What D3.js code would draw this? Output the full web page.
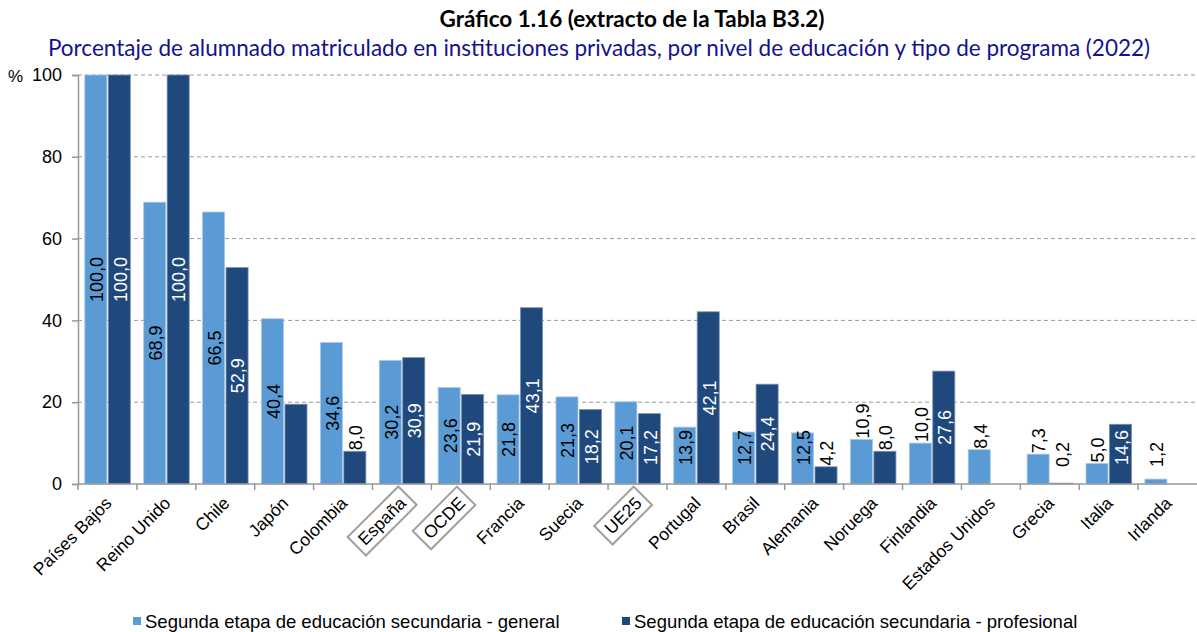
<!DOCTYPE html>
<html>
<head>
<meta charset="utf-8">
<script src="https://cdn.jsdelivr.net/npm/d3@7"></script>
<style>
  body { margin: 0; background: #fff; }
  svg { display: block; }
</style>
</head>
<body>
<div id="frame"></div>
<script>

var countries = ["Países Bajos", "Reino Unido", "Chile", "Japón", "Colombia", "España", "OCDE",
  "Francia", "Suecia", "UE25", "Portugal", "Brasil", "Alemania", "Noruega", "Finlandia",
  "Estados Unidos", "Grecia", "Italia", "Irlanda"];

// Segunda etapa de educación secundaria - general
var general = [100.0, 68.9, 66.5, 40.4, 34.6, 30.2, 23.6, 21.8, 21.3, 20.1, 13.9, 12.7, 12.5,
  10.9, 10.0, 8.4, 7.3, 5.0, 1.2];

// Segunda etapa de educación secundaria - profesional (null = no data)
var profesional = [100.0, 100.0, 52.9, 19.5, 8.0, 30.9, 21.9, 43.1, 18.2, 17.2, 42.1, 24.4, 4.2,
  8.0, 27.6, null, 0.2, 14.6, null];

// Japón has no label on its profesional bar
var profesionalShowLabel = [true, true, true, false, true, true, true, true, true, true, true,
  true, true, true, true, false, true, true, false];

var boxed = ["España", "OCDE", "UE25"];
var yTicks = [0, 20, 40, 60, 80, 100];

var seriesNames = ["Segunda etapa de educación secundaria - general",
  "Segunda etapa de educación secundaria - profesional"];
var colours = ["#5b9bd5", "#1f497d"];

(function() {
var W = 1197, H = 632;
var svg = d3.select('#frame').append('svg').attr('width', W).attr('height', H);

var plotLeft = 78, plotRight = 1197, plotTop = 75, plotBottom = 484;

var x = d3.scaleBand().domain(countries).range([plotLeft, plotRight]).paddingInner(0).paddingOuter(0);
var inner = d3.scaleBand().domain([0, 1]).range([6.8, x.bandwidth() - 6.6]).paddingInner(0.06);
var y = d3.scaleLinear().domain([0, 100]).range([plotBottom, plotTop]);

// titles
svg.append("text")
  .attr("x", 632).attr("y", 27)
  .attr("text-anchor", "middle")
  .attr("font-family", "Lato, 'Open Sans', sans-serif")
  .attr("font-weight", "bold")
  .attr("font-size", "22.5px")
  .attr("fill", "#000")
  .text("Gráfico 1.16 (extracto de la Tabla B3.2)");

svg.append("text")
  .attr("x", 599).attr("y", 56)
  .attr("text-anchor", "middle")
  .attr("font-family", "Lato, 'Open Sans', sans-serif")
  .attr("font-size", "22.5px")
  .attr("fill", "#12128f")
  .text("Porcentaje de alumnado matriculado en instituciones privadas, por nivel de educación y tipo de programa (2022)");

// gridlines
svg.append("g").selectAll("line")
  .data(yTicks.filter(function(d) { return d > 0; }))
  .join("line")
  .attr("x1", plotLeft).attr("x2", plotRight)
  .attr("y1", function(d) { return y(d); })
  .attr("y2", function(d) { return y(d); })
  .attr("stroke", "#9a9a9a")
  .attr("stroke-width", 1)
  .attr("stroke-dasharray", "4,3");

// y axis
var yAxis = svg.append("g").attr("transform", "translate(" + plotLeft + ",0)")
  .call(d3.axisLeft(y).tickValues(yTicks).tickSize(6).tickPadding(10));
yAxis.select(".domain").attr("stroke", "#999").attr("stroke-width", 1.5);
yAxis.selectAll(".tick line").attr("stroke", "#999").attr("stroke-width", 1.5);
yAxis.selectAll(".tick text")
  .attr("font-family", "'Liberation Sans', Arial, sans-serif")
  .attr("font-size", "18px")
  .attr("fill", "#000");

svg.append("text")
  .attr("x", 8).attr("y", 82)
  .attr("font-family", "'Liberation Sans', Arial, sans-serif")
  .attr("font-size", "17px")
  .text("%");

// bars
var series = [general, profesional];
var labelShow = [general.map(function() { return true; }), profesionalShowLabel];

series.forEach(function(vals, s) {
  var g = svg.append("g");
  countries.forEach(function(c, i) {
    var v = vals[i];
    if (v === null) return;
    g.append("rect")
      .attr("x", x(c) + inner(s)).attr("y", y(v))
      .attr("width", inner.bandwidth()).attr("height", y(0) - y(v))
      .attr("fill", colours[s])
      .attr("stroke", s === 0 ? "#a9c9ea" : "#7890b0")
      .attr("stroke-width", 0.8);
  });
});

// value labels
var fmt = function(v) { return d3.format(".1f")(v).replace(".", ","); };
series.forEach(function(vals, s) {
  var g = svg.append("g");
  countries.forEach(function(c, i) {
    var v = vals[i];
    if (v === null || !labelShow[s][i]) return;
    var cx = x(c) + inner(s) + inner.bandwidth() / 2;
    var t = g.append("text")
      .attr("font-family", "'Liberation Sans', Arial, sans-serif")
      .attr("font-size", "18px")
      .attr("text-anchor", "middle")
      .attr("dy", "0.35em")
      .text(fmt(v));
    var len = t.node().getComputedTextLength();
    var barH = y(0) - y(v);
    var cy, fill;
    if (barH > len + 12) {
      cy = Math.min((y(v) + y(0)) / 2, y(0) - 19 - len / 2);
      fill = s === 0 ? "#000" : "#fff";
    } else {
      var bottomEdge = Math.min(y(v) - 1, y(0) - 17);
      cy = bottomEdge - len / 2;
      fill = "#000";
    }
    t.attr("fill", fill)
      .attr("transform", "translate(" + (cx + 1) + "," + cy + ") rotate(-90)");
  });
});

// x axis
var xAxis = svg.append("g").attr("transform", "translate(0," + plotBottom + ")");
xAxis.append("line")
  .attr("x1", plotLeft).attr("x2", plotRight)
  .attr("stroke", "#999").attr("stroke-width", 1.5);
xAxis.selectAll("line.tk")
  .data(countries)
  .join("line")
  .attr("class", "tk")
  .attr("x1", function(d) { return x(d); })
  .attr("x2", function(d) { return x(d); })
  .attr("y1", 0).attr("y2", 6)
  .attr("stroke", "#999").attr("stroke-width", 1.5);

var xl = xAxis.selectAll("g.lab")
  .data(countries)
  .join("g")
  .attr("class", "lab")
  .attr("transform", function(d) {
    return "translate(" + (x(d) + x.bandwidth() / 2 + 1) + ",16) rotate(-45)";
  });

xl.append("text")
  .attr("text-anchor", "end")
  .attr("dy", "0.35em")
  .attr("font-family", "'Liberation Sans', Arial, sans-serif")
  .attr("font-size", "17.5px")
  .attr("fill", "#000")
  .text(function(d) { return d; });

xl.filter(function(d) { return boxed.indexOf(d) >= 0; })
  .each(function() {
    var gg = d3.select(this);
    var bb = gg.select("text").node().getBBox();
    gg.insert("rect", "text")
      .attr("x", bb.x - 6).attr("y", bb.y - 3)
      .attr("width", bb.width + 12).attr("height", bb.height + 6)
      .attr("fill", "#fff")
      .attr("stroke", "#a0a0a0")
      .attr("stroke-width", 2);
  });

// legend
var legendX = [133, 622];
var legend = svg.append("g");
seriesNames.forEach(function(name, s) {
  legend.append("rect")
    .attr("x", legendX[s]).attr("y", 617)
    .attr("width", 8).attr("height", 8)
    .attr("fill", colours[s]);
  legend.append("text")
    .attr("x", legendX[s] + 12).attr("y", 628)
    .attr("font-family", "'Liberation Sans', Arial, sans-serif")
    .attr("font-size", "18.5px")
    .attr("fill", "#000")
    .text(name);
});
})();

</script>
</body>
</html>
